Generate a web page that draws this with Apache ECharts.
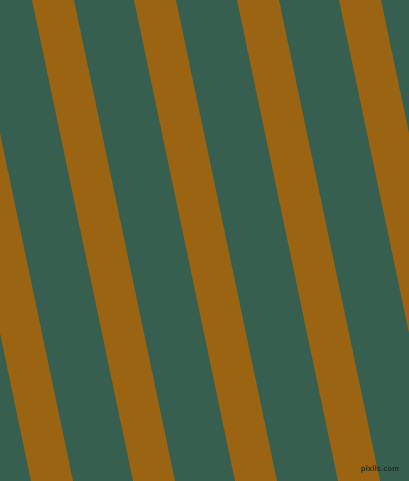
<!DOCTYPE html>
<html>
<head>
<meta charset="utf-8">
<script src="https://cdn.jsdelivr.net/npm/echarts@6/dist/echarts.min.js"></script>
<style>
html,body{margin:0;padding:0;background:#375F50;}
#chart{width:409px;height:481px;}
</style>
</head>
<body>
<div id="chart"></div>
<script>
// stripe left edge at top (y=0) and at bottom (y=481), in pixel-units of the canvas
var stripeTopStart = [-70, 32, 134, 237, 339];
var stripeBottomStart = [31, 133, 235, 338, 440];
var stripeWidth = [42, 42, 42, 42, 42];
var canvasWidth = 409;
var canvasHeight = 481;
var watermark = 'pixils.com';

var data = stripeTopStart.map(function (t, i) {
  return [t, stripeBottomStart[i], stripeWidth[i]];
});

var chart = echarts.init(document.getElementById('chart'));
chart.setOption({
  backgroundColor: '#375F50',
  animation: false,
  grid: { left: 0, right: 0, top: 0, bottom: 0 },
  xAxis: { type: 'value', min: 0, max: canvasWidth, show: false },
  yAxis: { type: 'value', min: 0, max: canvasHeight, inverse: true, show: false },
  series: [{
    type: 'custom',
    clip: true,
    data: data,
    renderItem: function (params, api) {
      var t = api.value(0), b = api.value(1), w = api.value(2);
      var pts = [
        api.coord([t, 0]),
        api.coord([t + w, 0]),
        api.coord([b + w, canvasHeight]),
        api.coord([b, canvasHeight])
      ];
      return {
        type: 'polygon',
        shape: { points: pts },
        style: { fill: '#9A6412' }
      };
    }
  }],
  graphic: [{
    type: 'text',
    right: 10,
    bottom: 8,
    z: 100,
    style: {
      text: watermark,
      font: 'bold 7.5px "DejaVu Sans Condensed", "Liberation Sans", sans-serif',
      fill: 'rgba(25,40,32,0.8)'
    }
  }]
});
</script>
</body>
</html>
